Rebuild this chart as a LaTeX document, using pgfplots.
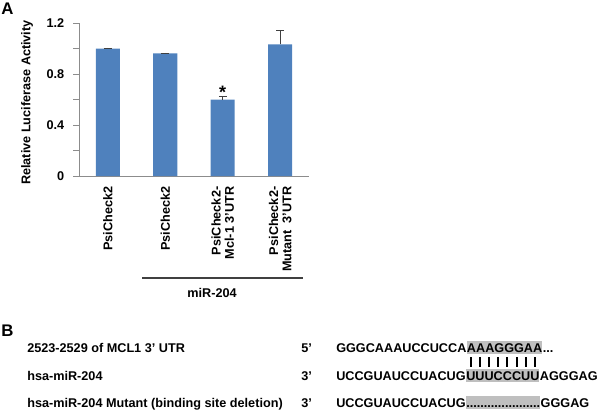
\documentclass[border=0pt]{standalone}
\usepackage{pgfplots}
\pgfplotsset{compat=1.18}
\usepackage{fontspec}
\setmainfont{Liberation Sans}
\usetikzlibrary{calc}

\definecolor{barblue}{HTML}{4F81BD}
\definecolor{hl}{HTML}{BFBFBF}
\definecolor{axgray}{HTML}{8C8C8C}
\definecolor{errgray}{HTML}{404040}
\newcommand{\lbl}{\fontsize{9.5}{9.8}\selectfont\bfseries}

\begin{document}
\begin{tikzpicture}
\path[use as bounding box] (0,0) rectangle (450pt,-309pt);

\begin{axis}[
  at={(59.25pt,-132pt)}, anchor=south west,
  scale only axis, width=172.5pt, height=114.75pt,
  xmin=-0.5, xmax=3.5, ymin=0, ymax=1.2,
  axis x line*=bottom, axis y line*=left,
  axis line style={axgray, line width=0.7pt},
  ytick={0,0.2,0.4,0.6,0.8,1.0,1.2},
  yticklabels={0,,0.4,,0.8,,1.2},
  tick align=outside, major tick length=4.5pt,
  ytick style={axgray, line width=0.7pt},
  yticklabel style={font=\lbl, xshift=-3pt},
  /pgf/number format/assume math mode=true,
  xtick={0,1,2,3}, xtick style={draw=none},
  xticklabels={PsiCheck2, PsiCheck2, {PsiCheck2-\\Mcl-1 3'UTR}, {PsiCheck2-\\Mutant\ \ 3'UTR}},
  xticklabel style={font=\lbl, rotate=90, anchor=east, align=right},
  every axis y label/.style={at={(axis description cs:-0.226,0.48)}, rotate=90, anchor=center},
  ylabel={\lbl Relative Luciferase Activity},
  clip=false,
]
  \addplot[ybar, bar width=18pt, fill=barblue, draw=none,
    error bars/.cd, y dir=plus, y explicit,
    error bar style={errgray, line width=0.7pt},
    error mark options={errgray, rotate=90, mark size=3pt, line width=0.7pt}]
    table[x=x, y=y, y error=e] {
      x y     e
      0 1.000 0.004
      1 0.962 0.003
      2 0.600 0.020
      3 1.033 0.112
    };
  \node[font=\fontsize{13.5}{13.5}\selectfont\bfseries, anchor=base, inner sep=0] at (axis cs:2,0.61) {*};
\end{axis}

\begin{scope}[x=0.75pt, y=-0.75pt]
  \node[font=\fontsize{12.6}{13}\selectfont\bfseries, anchor=north west, inner sep=0] at (1,3) {A};
  \draw[line width=1.1pt, black!75] (142,278) -- (303,278);
  \node[font=\lbl] at (212,293) {miR-204};

  \node[font=\fontsize{12.6}{13}\selectfont\bfseries, anchor=north west, inner sep=0] at (1,325) {B};

  \begin{scope}[every node/.style={font=\lbl, inner sep=0, anchor=base west}]
    \node at (27,352) {2523-2529 of MCL1 3’ UTR};
    \node at (27,380) {hsa-miR-204};
    \node at (27,407) {hsa-miR-204 Mutant (binding site deletion)};
    \node at (301,352) {5’};
    \node at (301,380) {3’};
    \node at (301,407) {3’};

    \node (p1) at (336,352) {GGGCAAAUCCUCCA};
    \node[fill=hl, inner ysep=1.2pt, text height=7pt, text depth=0.3pt] (h1) at (p1.base east) {AAAGGGAA};
    \node at (h1.base east) {...};

    \node (p2) at (336,380) {UCCGUAUCCUACUG};
    \node[fill=hl, inner ysep=1.2pt, text height=7pt, text depth=0.3pt] (h2) at (p2.base east) {UUUCCCUU};
    \node at (h2.base east) {AGGGAG};

    \node (p3) at (336,407) {UCCGUAUCCUACUG};
    \node[fill=hl, inner ysep=1.2pt, text height=7pt, text depth=0.3pt] (h3) at (p3.base east) {.....................};
    \node at (h3.base east) {GGGAG};
  \end{scope}

  \foreach \i in {0,...,7} {
    \draw[line width=1.5pt] ($(h2.north west)!{(\i+0.5)/8}!(h2.north east)$) ++(0,-2) -- ++(0,-10);
  }
\end{scope}
\end{tikzpicture}
\end{document}
